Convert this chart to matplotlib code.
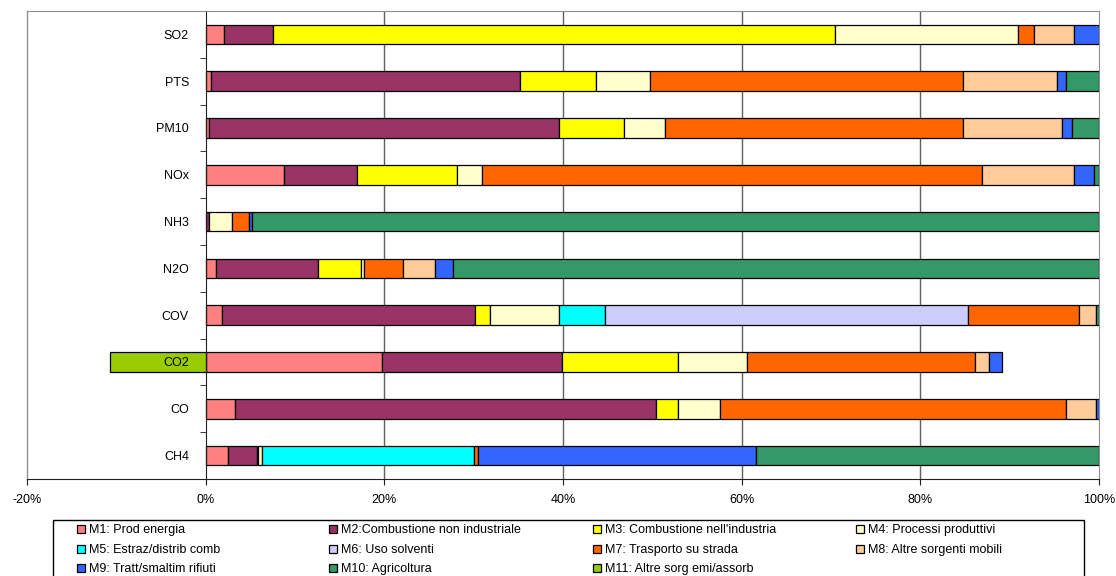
import matplotlib
matplotlib.use("Agg")
import matplotlib.pyplot as plt
from matplotlib.patches import Rectangle
import numpy as np

plt.rcParams['font.family'] = ['Liberation Sans', 'DejaVu Sans']

categories = ["SO2", "PTS", "PM10", "NOx", "NH3", "N2O", "COV", "CO2", "CO", "CH4"]

series_names = [
    "M1: Prod energia",
    "M2:Combustione non industriale",
    "M3: Combustione nell'industria",
    "M4: Processi produttivi",
    "M5: Estraz/distrib comb",
    "M6: Uso solventi",
    "M7: Trasporto su strada",
    "M8: Altre sorgenti mobili",
    "M9: Tratt/smaltim rifiuti",
    "M10: Agricoltura",
    "M11: Altre sorg emi/assorb",
]

#                 SO2   PTS   PM10  NOx   NH3   N2O   COV   CO2   CO    CH4
m1  = [2.0,  0.6,  0.4,  8.8,  0.0,  1.2,  1.8,  19.7, 3.3,  2.5]
m2  = [5.5,  34.6, 39.2, 8.1,  0.4,  11.4, 28.4, 20.2, 47.1, 3.2]
m3  = [62.9, 8.5,  7.2,  11.2, 0.0,  4.8,  1.6,  13.0, 2.5,  0.2]
m4  = [20.5, 6.0,  4.6,  2.8,  2.6,  0.3,  7.8,  7.7,  4.7,  0.4]
m5  = [0.0,  0.0,  0.0,  0.0,  0.0,  0.0,  5.1,  0.0,  0.0,  23.7]
m6  = [0.0,  0.0,  0.0,  0.0,  0.0,  0.0,  40.6, 0.0,  0.0,  0.0]
m7  = [1.8,  35.1, 33.4, 56.0, 1.9,  4.4,  12.5, 25.5, 38.7, 0.5]
m8  = [4.5,  10.5, 11.1, 10.3, 0.0,  3.6,  1.9,  1.6,  3.4,  0.0]
m9  = [2.8,  1.0,  1.1,  2.2,  0.3,  2.0,  0.0,  1.4,  0.3,  31.1]
m10 = [0.0,  3.7,  3.0,  0.6,  94.8, 72.3, 0.3,  0.0,  0.0,  38.4]
m11 = [0.0,  0.0,  0.0,  0.0,  0.0,  0.0,  0.0,  -10.7, 0.0, 0.0]

series_values = [m1, m2, m3, m4, m5, m6, m7, m8, m9, m10, m11]

colors = ["#FF8080", "#993366", "#FFFF00", "#FFFFCC", "#00FFFF", "#CCCCFF",
          "#FF6600", "#FFCC99", "#3366FF", "#339966", "#99CC00"]

xticks = [-20, 0, 20, 40, 60, 80, 100]
xtick_labels = ["-20%", "0%", "20%", "40%", "60%", "80%", "100%"]

W, H = 1116, 576
fig = plt.figure(figsize=(W / 100, H / 100), dpi=100)
ax = fig.add_axes([27 / W, (H - 479) / H, 1072 / W, 468 / H])
ax.set_axisbelow(False)

y = np.arange(len(categories))
pos_left = np.zeros(len(categories))
bar_h = 0.42
for name, vals, col in zip(series_names, series_values, colors):
    vals = np.array(vals, dtype=float)
    idx = np.nonzero(vals)[0]
    lefts = np.where(vals[idx] > 0, pos_left[idx], 0.0)
    ax.barh(y[idx], vals[idx], left=lefts, height=bar_h, color=col,
            edgecolor="black", linewidth=0.9, zorder=2, label=name)
    pos_left[idx] += np.where(vals[idx] > 0, vals[idx], 0.0)

ax.set_xlim(-20, 100)
ax.set_ylim(len(categories) - 0.5, -0.5)

# gridlines behind bars
for gx in [20, 40, 60, 80]:
    ax.axvline(gx, color="#606060", linewidth=1.0, zorder=0.5)

# spines / borders
ax.spines['left'].set_position(('data', 0))
ax.spines['left'].set_color("#202020")
ax.spines['bottom'].set_color("#202020")
ax.spines['top'].set_color("#909090")
ax.spines['right'].set_color("#909090")
ax.plot([0, 0], [0, 1], transform=ax.transAxes, color="#909090",
        linewidth=1.0, clip_on=False, zorder=0.5)

ax.set_yticks(y)
ax.set_yticklabels(categories, fontsize=9)
ax.set_yticks(np.arange(len(categories) - 1) + 0.5, minor=True)
ax.tick_params(axis='y', which='major', length=0, pad=12)
ax.tick_params(axis='y', which='minor', length=4, direction='out', color="#202020")

ax.set_xticks(xticks)
ax.set_xticklabels(xtick_labels, fontsize=9)
ax.tick_params(axis='x', length=4, direction='out', color="#202020", pad=7)

# legend box (manual, figure pixel coordinates)
def fx(px):
    return px / W

def fy(py):
    return 1 - py / H

fig.patches.append(Rectangle((fx(53), fy(580)), fx(1084) - fx(53), fy(520) - fy(580),
                             transform=fig.transFigure, facecolor="white",
                             edgecolor="black", linewidth=1.0, zorder=5))
col_x = [77, 329, 593, 856]
row_y = [529, 549, 568]
for i, (name, col) in enumerate(zip(series_names, colors)):
    r, c = divmod(i, 4)
    mx, my = col_x[c], row_y[r]
    fig.patches.append(Rectangle((fx(mx), fy(my + 4)), fx(8), 8 / H,
                                 transform=fig.transFigure, facecolor=col,
                                 edgecolor="black", linewidth=0.9, zorder=6))
    fig.text(fx(mx + 12), fy(my + 1), name, fontsize=9, va="center", ha="left", zorder=6)

fig.savefig("out.png", dpi=100)
